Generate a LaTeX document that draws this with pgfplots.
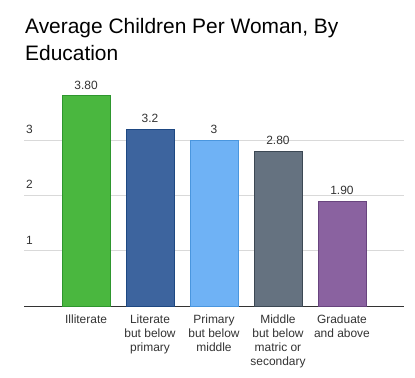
\documentclass[border=0pt]{standalone}
\usepackage{pgfplots}
\pgfplotsset{compat=1.18}
\usepackage{fontspec}
\setmainfont{Liberation Sans}
\definecolor{cgreen}{RGB}{74,183,63}
\definecolor{cgreenD}{RGB}{46,150,46}
\definecolor{cblue}{RGB}{61,100,158}
\definecolor{cblueD}{RGB}{30,72,130}
\definecolor{clblue}{RGB}{111,178,245}
\definecolor{clblueD}{RGB}{74,150,222}
\definecolor{cgray}{RGB}{101,114,128}
\definecolor{cgrayD}{RGB}{60,72,84}
\definecolor{cpurple}{RGB}{138,98,160}
\definecolor{cpurpleD}{RGB}{104,68,126}
\definecolor{txt}{RGB}{51,51,51}
\definecolor{gridc}{RGB}{217,217,217}
\begin{document}
\begin{tikzpicture}[x=1bp,y=1bp]
\path[use as bounding box] (0,0) rectangle (415,378);
\begin{axis}[
  at={(24bp,72bp)}, anchor=south west,
  scale only axis, width=380bp, height=221.2bp,
  xmin=-0.97, xmax=4.97, ymin=0, ymax=4,
  clip=false,
  ybar, bar width=48bp,
  axis x line*=bottom, axis y line*=left,
  x axis line style={draw=black!80, line width=1bp, -},
  y axis line style={draw=none},
  xtick={0,1,2,3,4},
  xticklabels={Illiterate,{Literate\\but below\\primary},{Primary\\but below\\middle},{Middle\\but below\\matric or\\secondary},{Graduate\\and above}},
  xtick style={draw=none},
  xticklabel style={align=center, font=\fontsize{12}{14}\selectfont, text=txt, inner sep=0pt, yshift=-4.5bp},
  ytick={1,2,3},
  ytick style={draw=none},
  /pgf/number format/assume math mode=true,
  yticklabel style={anchor=south west, inner sep=0pt, xshift=2bp, yshift=6.5bp, font=\fontsize{12}{14}\selectfont, text=txt},
  ymajorgrids, grid style={draw=gridc, line width=0.8bp},
  nodes near coords, point meta=explicit symbolic,
  every node near coord/.append style={font=\fontsize{12}{14}\selectfont, text=txt, inner sep=0pt, yshift=6bp},
]
\addplot[fill=cgreen, draw=cgreenD, line width=0.8bp, bar shift=0pt] coordinates {(0,3.8) [3.80]};
\addplot[fill=cblue, draw=cblueD, line width=0.8bp, bar shift=0pt] coordinates {(1,3.2) [3.2]};
\addplot[fill=clblue, draw=clblueD, line width=0.8bp, bar shift=0pt] coordinates {(2,3.0) [3]};
\addplot[fill=cgray, draw=cgrayD, line width=0.8bp, bar shift=0pt] coordinates {(3,2.8) [2.80]};
\addplot[fill=cpurple, draw=cpurpleD, line width=0.8bp, bar shift=0pt] coordinates {(4,1.9) [1.90]};
\end{axis}
\node[anchor=base west, inner sep=0pt, font=\fontsize{21}{27}\selectfont, text=black] at (25,345) {Average Children Per Woman, By};
\node[anchor=base west, inner sep=0pt, font=\fontsize{21}{27}\selectfont, text=black] at (25,318) {Education};
\end{tikzpicture}
\end{document}
